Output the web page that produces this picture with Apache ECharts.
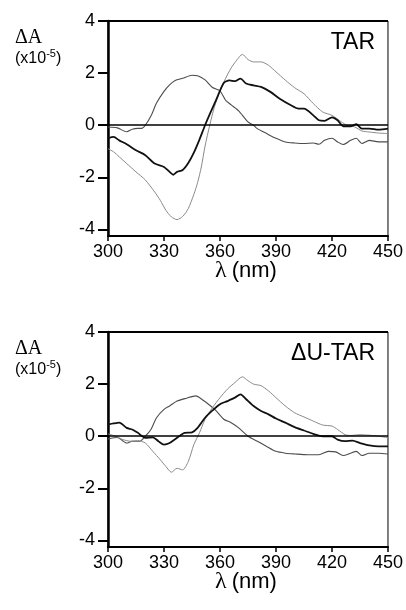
<!DOCTYPE html>
<html>
<head>
<meta charset="utf-8">
<script src="https://cdn.jsdelivr.net/npm/echarts@6/dist/echarts.min.js"></script>
<style>
  html, body { margin: 0; padding: 0; background: #fff; }
  #chart { width: 406px; height: 610px; }
</style>
</head>
<body>
<div id="chart"></div>
<script>
// wavelength ticks
const xTicks = [300, 330, 360, 390, 420, 450];
const yTicks = [-4, -2, 0, 2, 4];

// TAR panel
const tarA_x = [300,305,310,313,316,318,320,323,326,330,333,336,340,345,348,352,356,360,363,366,370,375,378,380,385,390,395,400,405,410,413,416,420,423,426,430,433,436,440,445,450];
const tarA_y = [-0.07,-0.1,-0.25,-0.15,-0.12,-0.12,0,0.35,0.85,1.3,1.55,1.72,1.8,1.92,1.9,1.74,1.45,1.32,0.96,0.78,0.55,0.13,0,-0.13,-0.32,-0.5,-0.64,-0.68,-0.7,-0.68,-0.73,-0.58,-0.5,-0.64,-0.74,-0.58,-0.5,-0.7,-0.58,-0.64,-0.64];

const tarB_x = [300,303,306,310,315,320,325,330,333,335,337,340,343,346,349,352,355,358,362,365,368,371,374,378,382,387,392,398,402,405,410,413,416,420,423,426,430,433,436,440,445,450];
const tarB_y = [-0.5,-0.45,-0.58,-0.73,-0.96,-1.15,-1.47,-1.6,-1.79,-1.9,-1.79,-1.72,-1.45,-1.05,-0.55,0,0.5,0.98,1.62,1.72,1.69,1.79,1.6,1.53,1.47,1.28,1.02,0.77,0.64,0.64,0.38,0.19,0.17,0.3,0.19,-0.04,-0.04,0.04,-0.13,-0.13,-0.17,-0.13];

const tarC_x = [300,303,306,310,315,320,325,328,331,334,337,340,343,346,348,350,352,354.5,357,360,363,366,369,372,375,378,382,386,390,395,400,405,410,415,420,425,428,432,436,440,445,450];
const tarC_y = [-0.9,-1.02,-1.21,-1.47,-1.79,-2.1,-2.56,-2.88,-3.26,-3.52,-3.62,-3.5,-3.2,-2.65,-2.2,-1.6,-0.8,0,0.7,1.32,1.8,2.2,2.5,2.72,2.52,2.43,2.43,2.3,2.05,1.73,1.44,1.21,0.83,0.51,0.38,0.13,0,-0.06,-0.22,-0.26,-0.3,-0.32];

// ΔU-TAR panel
const dutA_x = [300,305,310,313,317,320,323,326,330,333,337,342,347,351,355,358,362,366,370,375,380,385,390,395,400,407,413,418,422,426,430,433,436,440,445,450];
const dutA_y = [-0.1,-0.05,-0.26,-0.19,-0.19,0,0.26,0.71,1.03,1.16,1.35,1.46,1.55,1.38,1.16,0.97,0.65,0.52,0.32,0,-0.19,-0.39,-0.58,-0.65,-0.68,-0.71,-0.71,-0.58,-0.6,-0.74,-0.65,-0.58,-0.74,-0.65,-0.65,-0.68];

const dutB_x = [300,303,306,310,313,316,320,324,327,330,333,337,341,345,348,352,356,360,364,368,371,374,378,382,386,390,395,400,405,410,415,420,423,427,431,435,440,445,450];
const dutB_y = [0.45,0.49,0.52,0.32,0.26,0.13,-0.06,-0.04,-0.19,-0.32,-0.26,-0.06,0.13,0.15,0.32,0.71,0.99,1.23,1.35,1.48,1.61,1.42,1.16,0.97,0.84,0.68,0.52,0.35,0.22,0.09,0,0,-0.13,-0.19,-0.17,-0.26,-0.35,-0.39,-0.39];

const dutC_x = [300,304,308,312,316,320,324,328,331,334,337,340,343,346,349,352,356,360,364,368,372,375,378,382,386,390,395,400,405,410,415,420,423,427,430,435,440,445,450];
const dutC_y = [0.09,0,-0.13,-0.19,-0.17,-0.26,-0.58,-0.9,-1.16,-1.38,-1.23,-1.29,-0.97,-0.32,0.13,0.65,1.1,1.48,1.81,2.06,2.28,2.13,2.0,1.94,1.74,1.48,1.16,0.9,0.74,0.58,0.43,0.39,0.26,0.06,0.03,0.06,0.04,0,-0.06];

const pairs = (xs, ys) => xs.map((x, i) => [x, ys[i]]);

const SANS = 'Liberation Sans, Arial, sans-serif';
const SERIF = 'Liberation Serif, Times New Roman, serif';

const panels = [
    { top: 21, height: 215, min: -4.25, max: 4, label: 'TAR', curves: [[tarA_x, tarA_y], [tarB_x, tarB_y], [tarC_x, tarC_y]] },
    { top: 332, height: 215, min: -4.25, max: 4, label: '\u0394U-TAR', curves: [[dutA_x, dutA_y], [dutB_x, dutB_y], [dutC_x, dutC_y]] }
];

// styles of the three traces: mid grey, black (thick), light grey
const traceStyles = [
    { color: '#4d4d4d', width: 1.1 },
    { color: '#111', width: 1.8 },
    { color: '#8a8a8a', width: 1 }
];

const grid = [], xAxis = [], yAxis = [], series = [], title = [];

panels.forEach((p, k) => {
    // thin frame round the plot; left/bottom get overdrawn by the axes
    grid.push({ left: 108, top: p.top, width: 281, height: p.height, show: true, borderColor: '#000', borderWidth: 1 });
    xAxis.push({
        type: 'value', gridIndex: k, min: 300, max: 450, interval: 30, position: 'bottom',
        axisLine: { show: true, onZero: false, lineStyle: { color: '#000', width: 2 } },
        axisTick: { show: true, inside: false, length: 5, lineStyle: { color: '#000', width: 1.5 } },
        axisLabel: { show: true, margin: 7, color: '#000', fontSize: 18, fontFamily: SANS },
        splitLine: { show: false }
    });
    yAxis.push({
        type: 'value', gridIndex: k, min: p.min, max: p.max, position: 'left',
        axisLine: { show: true, onZero: false, lineStyle: { color: '#000', width: 2.5 } },
        axisTick: { show: true, inside: false, length: 10, customValues: yTicks, lineStyle: { color: '#000', width: 2 } },
        axisLabel: { show: true, margin: 13, customValues: yTicks, color: '#000', fontSize: 18, fontFamily: SANS },
        splitLine: { show: false }
    });

    p.curves.forEach((c, j) => {
        const s = {
            type: 'line', xAxisIndex: k, yAxisIndex: k,
            data: pairs(c[0], c[1]), showSymbol: false, smooth: 0.25,
            lineStyle: { color: traceStyles[j].color, width: traceStyles[j].width },
            silent: true, z: j === 1 ? 4 : 3
        };
        if (j === 1) {
            // zero line and the heavier top edge of the frame
            s.clip = false;
            s.markLine = {
                silent: true, symbol: 'none', label: { show: false },
                lineStyle: { color: '#000', width: 1.6, type: 'solid' },
                data: [
                    { yAxis: 0 },
                    { yAxis: p.max, lineStyle: { width: 2.2 } }
                ]
            };
        }
        series.push(s);
    });

    // panel name
    title.push({
        text: p.label, right: 406 - 375, top: p.top + 10, padding: 0,
        textStyle: { fontFamily: SANS, fontSize: 23, fontWeight: 'normal', color: '#000' }
    });
    // y-axis unit
    title.push({
        text: '{d|\u0394A}\n{u|(x10}{s|-5}{u|)}', left: 15, top: p.top + 6, padding: 0,
        textStyle: {
            fontWeight: 'normal',
            rich: {
                d: { fontFamily: SERIF, fontSize: 20, fontWeight: 'normal', color: '#000', lineHeight: 21 },
                u: { fontFamily: SANS, fontSize: 16, fontWeight: 'normal', color: '#000', lineHeight: 21 },
                s: { fontFamily: SANS, fontSize: 11, fontWeight: 'normal', color: '#000', lineHeight: 21, verticalAlign: 'top', padding: [0, 0, 9, 0] }
            }
        }
    });
    // x-axis name
    title.push({
        text: '{l|\u03bb} {n|(nm)}', left: 215, top: p.top + p.height + 23, padding: 0,
        textStyle: {
            fontWeight: 'normal',
            rich: {
                l: { fontFamily: SERIF, fontSize: 24, fontWeight: 'normal', color: '#000' },
                n: { fontFamily: SANS, fontSize: 22, fontWeight: 'normal', color: '#000' }
            }
        }
    });
});

const chart = echarts.init(document.getElementById('chart'));
chart.setOption({
    animation: false,
    backgroundColor: '#fff',
    title, grid, xAxis, yAxis, series
});
</script>
</body>
</html>
